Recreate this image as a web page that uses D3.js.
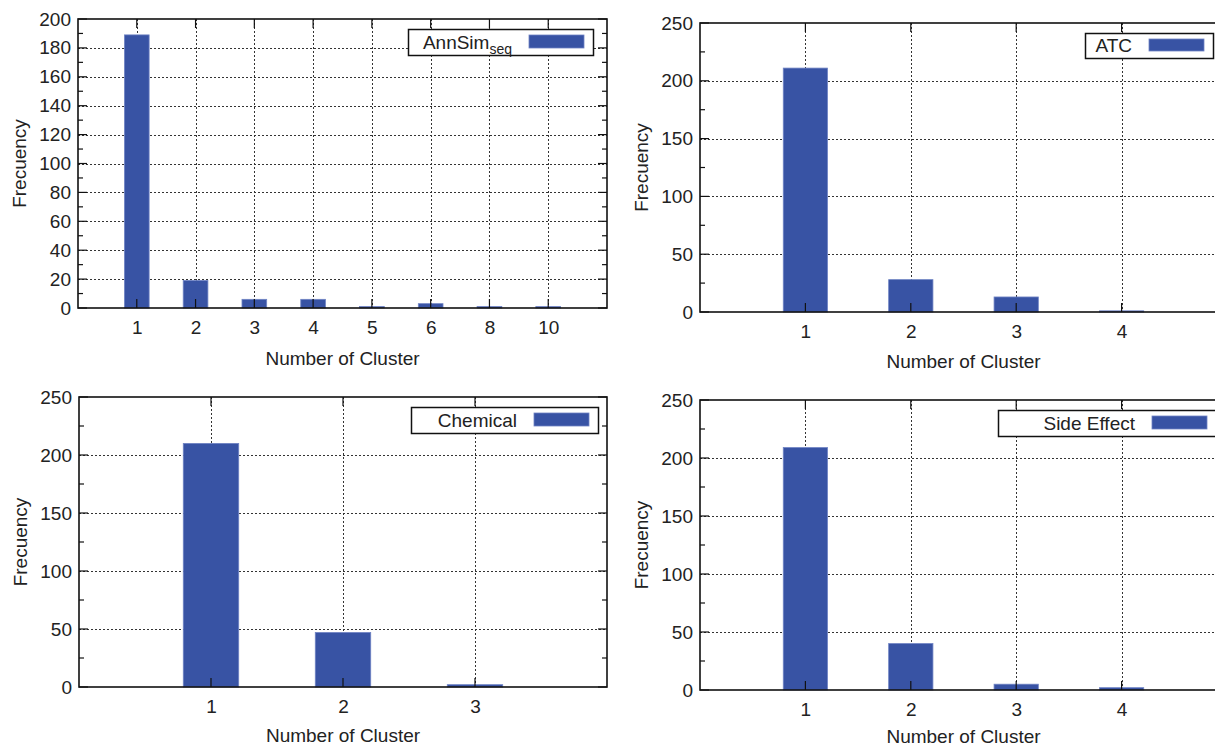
<!DOCTYPE html>
<html>
<head>
<meta charset="utf-8">
<script src="https://cdn.jsdelivr.net/npm/d3@7"></script>
<style>
  html, body { margin: 0; padding: 0; background: #fff; }
  svg { display: block; }
  text { font-family: "Liberation Sans", Arial, Helvetica, sans-serif; fill: #222; }
</style>
</head>
<body>
<div id="chart"></div>
<script>
// cluster-size histograms, one panel per similarity measure
const annsimClusters = ["1", "2", "3", "4", "5", "6", "8", "10"];
const annsimFreq = [189, 19, 6, 6, 1, 3, 1, 1];

const atcClusters = ["1", "2", "3", "4"];
const atcFreq = [211, 28, 13, 1];

const chemicalClusters = ["1", "2", "3"];
const chemicalFreq = [210, 47, 2];

const sideEffectClusters = ["1", "2", "3", "4"];
const sideEffectFreq = [209, 40, 5, 2];

const ticks200 = [0, 20, 40, 60, 80, 100, 120, 140, 160, 180, 200];
const ticks250 = [0, 50, 100, 150, 200, 250];

const xTitle = "Number of Cluster";
const yTitle = "Frecuency";

const BAR = "#3853a4";

(function () {
  const svg = d3.select("#chart").append("svg")
    .attr("width", 1215).attr("height", 747);
  svg.append("rect").attr("width", 1215).attr("height", 747).attr("fill", "#fff");

  const panels = [
    { clusters: annsimClusters, freq: annsimFreq, ticks: ticks200, name: "AnnSim", sub: "seq",
      box: { left: 78, right: 607, top: 19, bottom: 308 }, titleGap: 57,
      legend: { x0: 408, x1: 593, y0: 29, y1: 55 } },
    { clusters: atcClusters, freq: atcFreq, ticks: ticks250, name: "ATC",
      box: { left: 700, right: 1227, top: 23, bottom: 312 }, titleGap: 56,
      legend: { x0: 1085, x1: 1213, y0: 33, y1: 58 } },
    { clusters: chemicalClusters, freq: chemicalFreq, ticks: ticks250, name: "Chemical",
      box: { left: 79, right: 607, top: 397, bottom: 687 }, titleGap: 55,
      legend: { x0: 411, x1: 598, y0: 407, y1: 433 } },
    { clusters: sideEffectClusters, freq: sideEffectFreq, ticks: ticks250, name: "Side Effect",
      box: { left: 700, right: 1227, top: 400, bottom: 690 }, titleGap: 53,
      legend: { x0: 998, x1: 1216, y0: 410, y1: 436 } }
  ];

  panels.forEach(drawPanel);

  function drawPanel(p) {
    const b = p.box;
    const w = b.right - b.left, h = b.bottom - b.top;
    const g = svg.append("g");

    const x = d3.scalePoint().domain(p.clusters).range([b.left, b.right]).padding(1);
    const yMax = p.ticks[p.ticks.length - 1];
    const y = d3.scaleLinear().domain([0, yMax]).range([b.bottom, b.top]);
    const step = p.ticks[1] - p.ticks[0];
    const minor = d3.range(step / 2, yMax, step);
    const bw = x.step() * 0.42;

    // grid
    const grid = g.append("g").attr("stroke", "#333").attr("stroke-width", 1)
      .attr("stroke-dasharray", "2,2");
    grid.selectAll(".hg").data(p.ticks.slice(1, -1)).join("line")
      .attr("x1", b.left).attr("x2", b.right)
      .attr("y1", d => Math.round(y(d)) + 0.5).attr("y2", d => Math.round(y(d)) + 0.5);
    grid.selectAll(".vg").data(p.clusters).join("line")
      .attr("x1", d => Math.round(x(d)) + 0.5).attr("x2", d => Math.round(x(d)) + 0.5)
      .attr("y1", b.top).attr("y2", b.bottom);

    // bars
    g.selectAll(".bar").data(p.freq).join("rect")
      .attr("x", (d, i) => x(p.clusters[i]) - bw / 2)
      .attr("width", bw)
      .attr("y", d => y(d))
      .attr("height", d => y(0) - y(d))
      .attr("fill", BAR)
      .attr("stroke", "#6f83c4")
      .attr("stroke-width", 0.8);

    // legend
    const L = p.legend;
    g.append("rect")
      .attr("x", L.x0 + 0.5).attr("y", L.y0 + 0.5)
      .attr("width", L.x1 - L.x0).attr("height", L.y1 - L.y0)
      .attr("fill", "#fff").attr("stroke", "#111").attr("stroke-width", 1.5);
    const swR = L.x1 - 9, swL = swR - 55;
    g.append("rect")
      .attr("x", swL).attr("y", L.y0 + 6)
      .attr("width", 55).attr("height", L.y1 - L.y0 - 13)
      .attr("fill", BAR).attr("stroke", "#6f83c4").attr("stroke-width", 0.8);
    const lt = g.append("text")
      .attr("x", swL - 17).attr("y", (L.y0 + L.y1) / 2)
      .attr("dy", "0.36em")
      .attr("text-anchor", "end")
      .attr("font-size", 19)
      .text(p.name);
    if (p.sub) {
      lt.append("tspan").attr("font-size", 14).attr("dy", 5).text(p.sub);
    }

    // frame
    g.append("rect")
      .attr("x", b.left).attr("y", b.top).attr("width", w).attr("height", h)
      .attr("fill", "none").attr("stroke", "#111").attr("stroke-width", 1.6);

    // inward ticks
    const tk = g.append("g").attr("stroke", "#111").attr("stroke-width", 1.2);
    [[p.ticks, 9], [minor, 5]].forEach(([vals, len]) => {
      tk.selectAll(null).data(vals).join("line")
        .attr("x1", b.left).attr("x2", b.left + len)
        .attr("y1", d => y(d)).attr("y2", d => y(d));
      tk.selectAll(null).data(vals).join("line")
        .attr("x1", b.right).attr("x2", b.right - len)
        .attr("y1", d => y(d)).attr("y2", d => y(d));
    });
    tk.selectAll(null).data(p.clusters).join("line")
      .attr("x1", d => x(d)).attr("x2", d => x(d))
      .attr("y1", b.top).attr("y2", b.top + 9);
    tk.selectAll(null).data(p.clusters).join("line")
      .attr("x1", d => x(d)).attr("x2", d => x(d))
      .attr("y1", b.bottom).attr("y2", b.bottom - 9);

    // y tick labels
    const yAxis = g.append("g")
      .attr("transform", `translate(${b.left},0)`)
      .call(d3.axisLeft(y).tickValues(p.ticks).tickSize(0).tickPadding(7));
    yAxis.select(".domain").remove();
    yAxis.selectAll("text")
      .attr("font-size", 19)
      .attr("font-family", "'Liberation Sans', Arial, Helvetica, sans-serif")
      .attr("fill", "#222");

    // x tick labels
    const xAxis = g.append("g")
      .attr("transform", `translate(0,${b.bottom})`)
      .call(d3.axisBottom(x).tickSize(0).tickPadding(13));
    xAxis.select(".domain").remove();
    xAxis.selectAll("text")
      .attr("font-size", 19)
      .attr("font-family", "'Liberation Sans', Arial, Helvetica, sans-serif")
      .attr("fill", "#222");

    // titles
    g.append("text")
      .attr("x", (b.left + b.right) / 2).attr("y", b.bottom + p.titleGap)
      .attr("text-anchor", "middle")
      .attr("font-size", 19)
      .text(xTitle);
    g.append("text")
      .attr("transform", `translate(${b.left - 59},${(b.top + b.bottom) / 2}) rotate(-90)`)
      .attr("dy", "0.35em")
      .attr("text-anchor", "middle")
      .attr("font-size", 19)
      .text(yTitle);
  }
})();
</script>
</body>
</html>
